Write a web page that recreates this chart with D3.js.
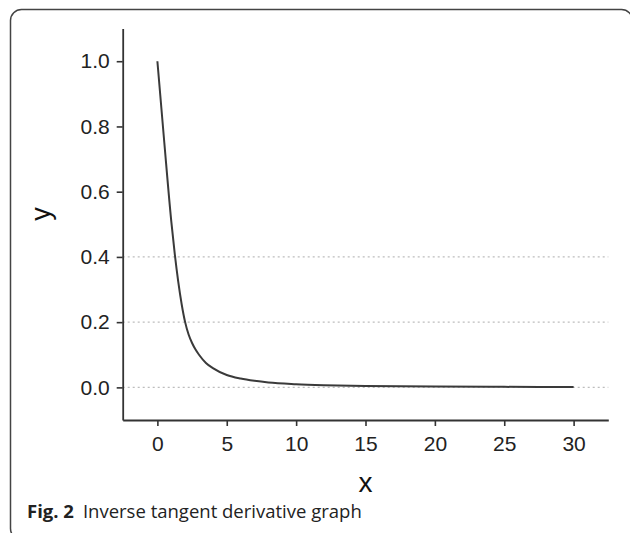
<!DOCTYPE html>
<html>
<head>
<meta charset="utf-8">
<script src="https://cdn.jsdelivr.net/npm/d3@7"></script>
<style>
  html, body { margin: 0; padding: 0; background: #fff; }
  svg { display: block; }
</style>
</head>
<body>
<svg id="chart" width="630" height="533"></svg>
<script>
// Data
const xValues = [0, 0.5, 1, 1.25, 1.5, 1.75, 2, 2.25, 2.5, 2.75, 3, 3.5, 4, 5, 6, 7, 8, 10, 12, 15, 20, 25, 30];
const yValues = [1.0, 0.75, 0.51, 0.41, 0.325, 0.255, 0.2, 0.162, 0.136, 0.116, 0.1, 0.075, 0.059, 0.038, 0.027, 0.02, 0.015, 0.0099, 0.0069, 0.0044, 0.0025, 0.0016, 0.0011];
const xMajorTicks = [0, 5, 10, 15, 20, 25, 30];
const xMinorTicks = [-2.5, 2.5, 7.5, 12.5, 17.5, 22.5, 27.5, 32.5];
const yMajorTicks = [0.0, 0.2, 0.4, 0.6, 0.8, 1.0];
const yMinorTicks = [-0.1, 0.1, 0.3, 0.5, 0.7, 0.9, 1.1];
const gridValues = [0.0, 0.2, 0.4];
const xTitle = "x";
const yTitle = "y";
const captionBold = "Fig. 2";
const captionText = "Inverse tangent derivative graph";

const svg = d3.select("#chart");

// frame (rounded panel, partially cropped)
svg.append("rect")
  .attr("x", 10.5).attr("y", 9.5)
  .attr("width", 622).attr("height", 530)
  .attr("rx", 11).attr("ry", 11)
  .attr("fill", "none").attr("stroke", "#444").attr("stroke-width", 1.5);

const x = d3.scaleLinear().domain([-2.5, 32.5]).range([122.7, 608.3]);
const y = d3.scaleLinear().domain([-0.1, 1.1]).range([420, 28.6]);

// gridlines
svg.append("g").selectAll("line").data(gridValues).join("line")
  .attr("x1", x(-2.5)).attr("x2", x(32.5))
  .attr("y1", d => y(d)).attr("y2", d => y(d))
  .attr("stroke", "#bdbdbd").attr("stroke-width", 1.3)
  .attr("stroke-dasharray", "2,3");

const fontAxis = "'Liberation Sans', Arial, sans-serif";

// x axis
const gx = svg.append("g").attr("transform", `translate(0,${y(-0.1)})`);
gx.call(d3.axisBottom(x).tickValues(xMinorTicks).tickSize(3).tickSizeOuter(0).tickFormat(""));
gx.call(d3.axisBottom(x).tickValues(xMajorTicks).tickSize(6).tickSizeOuter(0).tickPadding(10).tickFormat(d3.format("d")));

// y axis
const gy = svg.append("g").attr("transform", `translate(${x(-2.5)},0)`);
gy.call(d3.axisLeft(y).tickValues(yMinorTicks).tickSize(3).tickSizeOuter(0).tickFormat(""));
gy.call(d3.axisLeft(y).tickValues(yMajorTicks).tickSize(6).tickSizeOuter(0).tickPadding(7).tickFormat(d3.format(".1f")));

svg.selectAll(".domain").attr("stroke", "#333").attr("stroke-width", 1.8);
svg.selectAll(".tick line").attr("stroke", "#333").attr("stroke-width", 1.6);
svg.selectAll(".tick text").attr("font-family", fontAxis).attr("font-size", 21).attr("fill", "#222");

// curve
const pts = xValues.map((v, i) => [v, yValues[i]]);
svg.append("path")
  .datum(pts)
  .attr("fill", "none")
  .attr("stroke", "#3a3a3a")
  .attr("stroke-width", 2)
  .attr("d", d3.line().x(d => x(d[0])).y(d => y(d[1])).curve(d3.curveMonotoneX));

// axis titles
svg.append("text")
  .attr("x", x(15)).attr("y", 492)
  .attr("text-anchor", "middle")
  .attr("font-family", fontAxis).attr("font-size", 28).attr("fill", "#111")
  .text(xTitle);

svg.append("text")
  .attr("transform", `translate(50,${214}) rotate(-90)`)
  .attr("text-anchor", "middle")
  .attr("font-family", fontAxis).attr("font-size", 27).attr("fill", "#111")
  .text(yTitle);

// caption
const cap = svg.append("text")
  .attr("x", 27).attr("y", 518)
  .attr("font-family", "'Open Sans', 'Noto Sans', sans-serif").attr("font-size", 18.5).attr("fill", "#222");
cap.append("tspan").attr("font-weight", "bold").text(captionBold);
cap.append("tspan").attr("dx", 9).text(captionText);
</script>
</body>
</html>
